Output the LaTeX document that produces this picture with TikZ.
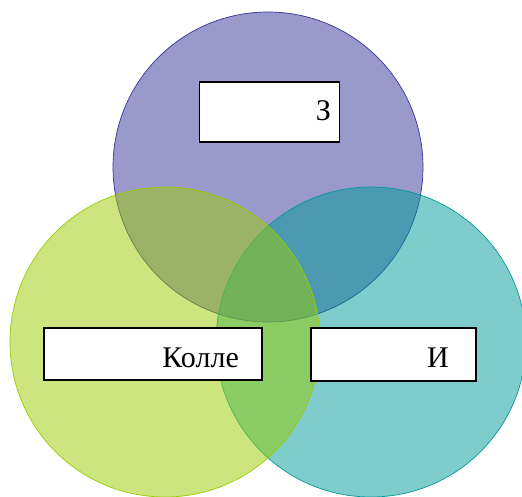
\documentclass[tikz,border=0pt]{standalone}
\usepackage{fontspec}
\setmainfont{Liberation Serif}
\definecolor{cpurple}{HTML}{333399}
\definecolor{cgreen}{HTML}{99CC00}
\definecolor{cteal}{HTML}{009999}
\begin{document}
\begin{tikzpicture}[x=1pt,y=-1pt,
  venn/.style={circle,minimum size=310pt,inner sep=0pt,fill opacity=0.5,line width=0.7pt},
  labelbox/.style={draw=black,fill=white,line width=1.4pt,inner sep=0pt},
  lbl/.style={font=\fontsize{30}{32}\selectfont,anchor=base east,inner sep=0pt}]
\useasboundingbox (0,0) rectangle (522,497);
\node[venn,draw=cpurple,fill=cpurple] (top) at (268,167) {};
\node[venn,draw=cteal,fill=cteal] (right) at (371,342) {};
\node[venn,draw=cgreen,fill=cgreen] (left) at (165,342) {};
\node[labelbox,minimum width=140pt,minimum height=60pt] (btop) at (269.5,112) {};
\node[labelbox,minimum width=218pt,minimum height=52pt] (bleft) at (153,354) {};
\node[labelbox,minimum width=165pt,minimum height=53pt] (bright) at (393.5,354.5) {};
\node[lbl] (ttop) at (331,121) {З};
\node[lbl] (tleft) at (239,367) {Колле};
\node[lbl] (tright) at (449,367) {И};
\end{tikzpicture}
\end{document}
